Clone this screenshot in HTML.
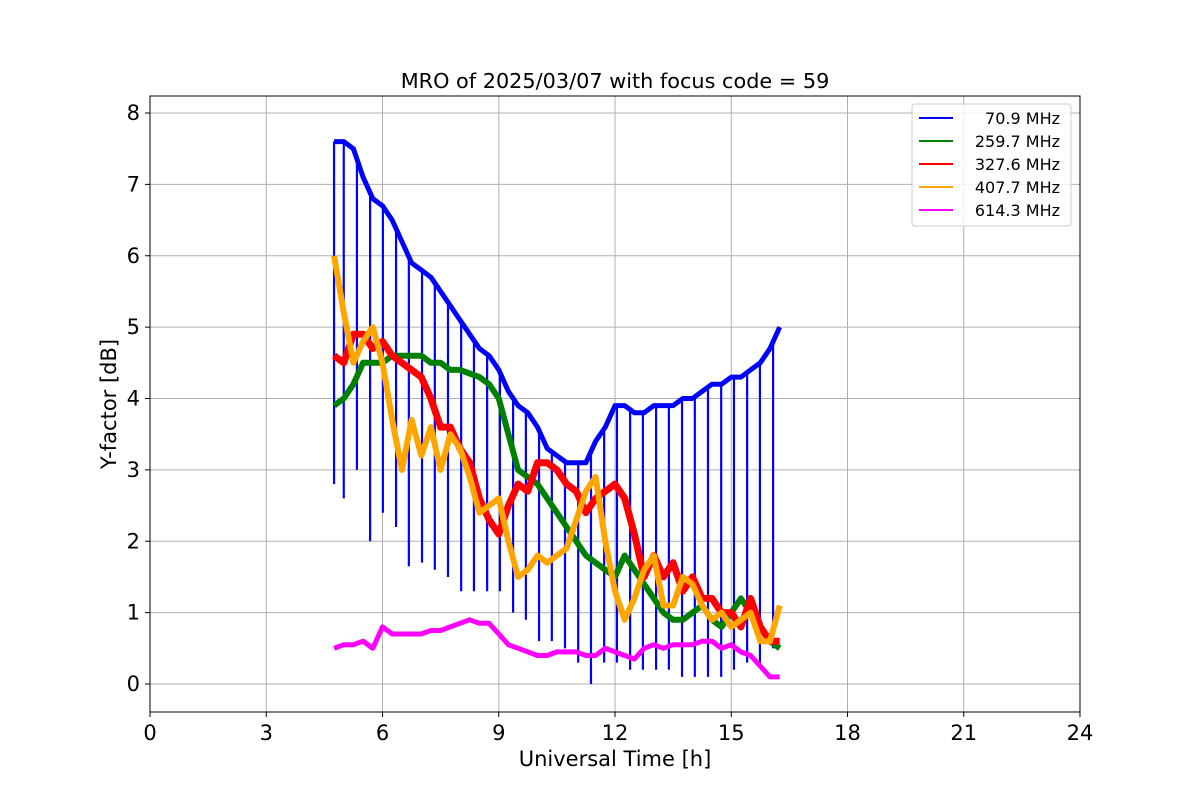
<!DOCTYPE html>
<html><head><meta charset="utf-8">
<style>
body{margin:0;background:#fff;}
svg{display:block;font-family:"DejaVu Sans","Liberation Sans",sans-serif;}
</style></head>
<body>
<svg id="chart" width="1200" height="800" viewBox="0 0 1200 800">
<rect width="1200" height="800" fill="#fff"/>
<g id="grid"></g>
<g id="series"></g>
<rect x="150" y="96" width="930" height="616" fill="none" stroke="#000" stroke-width="1"/>
<g id="ticks"></g>
<text x="615" y="88" text-anchor="middle" font-size="20.8">MRO of 2025/03/07 with focus code = 59</text>
<text x="615" y="766" text-anchor="middle" font-size="21">Universal Time [h]</text>
<text x="116" y="404" text-anchor="middle" font-size="21" transform="rotate(-90 116 404)">Y-factor [dB]</text>
<g id="legend">
<rect x="912" y="104" width="159" height="122" rx="3" fill="#fff" fill-opacity="0.8" stroke="#ccc"/>
</g>
</svg>
<script>
const xTicks=[0,3,6,9,12,15,18,21,24];
const yTicks=[0,1,2,3,4,5,6,7,8];
const times=[4.75,5.0,5.25,5.5,5.75,6.0,6.25,6.5,6.75,7.0,7.25,7.5,7.75,8.0,8.25,8.5,8.75,9.0,9.25,9.5,9.75,10.0,10.25,10.5,10.75,11.0,11.25,11.5,11.75,12.0,12.25,12.5,12.75,13.0,13.25,13.5,13.75,14.0,14.25,14.5,14.75,15.0,15.25,15.5,15.75,16.0,16.25];
const blueVals=[7.6,7.6,7.5,7.1,6.8,6.7,6.5,6.2,5.9,5.8,5.7,5.5,5.3,5.1,4.9,4.7,4.6,4.4,4.1,3.9,3.8,3.6,3.3,3.2,3.1,3.1,3.1,3.4,3.6,3.9,3.9,3.8,3.8,3.9,3.9,3.9,4.0,4.0,4.1,4.2,4.2,4.3,4.3,4.4,4.5,4.7,5.0];
const blueDipTimes=[4.75,5.0,5.34,5.68,6.01,6.35,6.68,7.02,7.35,7.69,8.03,8.36,8.70,9.03,9.37,9.70,10.04,10.37,10.71,11.05,11.38,11.72,12.05,12.39,12.72,13.06,13.39,13.73,14.06,14.40,14.74,15.07,15.41,15.74,16.08];
const blueDipVals=[2.8,2.6,3.0,2.0,2.4,2.2,1.65,1.7,1.6,1.5,1.3,1.3,1.3,1.3,1.0,0.9,0.6,0.6,0.5,0.3,0.0,0.3,0.3,0.2,0.2,0.2,0.2,0.1,0.1,0.1,0.1,0.2,0.3,0.3,0.5];
const greenVals=[3.9,4.0,4.2,4.5,4.5,4.5,4.6,4.6,4.6,4.6,4.5,4.5,4.4,4.4,4.35,4.3,4.2,4.0,3.5,3.0,2.9,2.8,2.6,2.4,2.2,2.0,1.8,1.7,1.6,1.5,1.8,1.6,1.4,1.2,1.0,0.9,0.9,1.0,1.1,0.9,0.8,1.0,1.2,1.0,0.8,0.6,0.5];
const redVals=[4.6,4.5,4.9,4.9,4.7,4.8,4.6,4.5,4.4,4.3,4.0,3.6,3.6,3.3,3.1,2.6,2.3,2.1,2.5,2.8,2.7,3.1,3.1,3.0,2.8,2.7,2.4,2.6,2.7,2.8,2.6,2.1,1.5,1.8,1.5,1.7,1.3,1.5,1.2,1.2,1.0,1.0,0.8,1.2,0.8,0.6,0.6];
const orangeVals=[6.0,5.2,4.5,4.8,5.0,4.5,3.7,3.0,3.7,3.2,3.6,3.0,3.5,3.3,2.9,2.4,2.5,2.6,2.0,1.5,1.6,1.8,1.7,1.8,1.9,2.3,2.7,2.9,2.0,1.3,0.9,1.2,1.6,1.8,1.1,1.1,1.5,1.4,1.1,0.9,1.0,0.8,0.9,1.0,0.6,0.6,1.1];
const magentaVals=[0.5,0.55,0.55,0.6,0.5,0.8,0.7,0.7,0.7,0.7,0.75,0.75,0.8,0.85,0.9,0.85,0.85,0.7,0.55,0.5,0.45,0.4,0.4,0.45,0.45,0.45,0.4,0.4,0.5,0.45,0.4,0.35,0.5,0.55,0.5,0.55,0.55,0.55,0.6,0.6,0.5,0.55,0.45,0.4,0.25,0.1,0.1];
const seriesLabels=[" 70.9 MHz","259.7 MHz","327.6 MHz","407.7 MHz","614.3 MHz"];
const seriesColors=["blue","green","red","orange","magenta"];
const seriesNames=["series-70-9-mhz","series-259-7-mhz","series-327-6-mhz","series-407-7-mhz","series-614-3-mhz"];

const NS="http://www.w3.org/2000/svg";
const X0=150,X1=1080,Y0=684,Y8=113;
const xs=h=>X0+(X1-X0)*h/24;
const ys=v=>Y0+(Y8-Y0)*v/8;
function mk(tag,attrs,parent){const e=document.createElementNS(NS,tag);for(const k in attrs)e.setAttribute(k,attrs[k]);parent.appendChild(e);return e;}
const grid=document.getElementById('grid'),ticks=document.getElementById('ticks');
xTicks.forEach(t=>{
  const l=mk('line',{x1:xs(t),x2:xs(t),y1:96,y2:712,stroke:'#b0b0b0','stroke-width':1},grid);
  
  
  const tk=mk('line',{x1:xs(t),x2:xs(t),y1:712,y2:717,stroke:'#000'},ticks);
  
  
  const tx=mk('text',{x:xs(t),y:740,'text-anchor':'middle','font-size':21},ticks);
  tx.textContent=t;
  
  
});
yTicks.forEach(t=>{
  const l=mk('line',{x1:150,x2:1080,y1:ys(t),y2:ys(t),stroke:'#b0b0b0','stroke-width':1},grid);
  
  
  const tk=mk('line',{x1:145,x2:150,y1:ys(t),y2:ys(t),stroke:'#000'},ticks);
  
  
  const tx=mk('text',{x:140,y:ys(t)+7,'text-anchor':'end','font-size':21},ticks);
  tx.textContent=t;
  
  
});
function interp(vals,t){
  for(let i=0;i<times.length-1;i++){if(t>=times[i]&&t<=times[i+1]){const f=(t-times[i])/(times[i+1]-times[i]);return vals[i]+f*(vals[i+1]-vals[i]);}}
  return t<times[0]?vals[0]:vals[vals.length-1];
}
const sg=document.getElementById('series');
function drawPts(pts,color,w,name){
  const d=pts.map((p,i)=>(i?'L':'M')+xs(p[0]).toFixed(1)+' '+ys(p[1]).toFixed(1)).join(' ');
  const p=mk('path',{d:d,fill:'none',stroke:color,'stroke-width':w,'stroke-linejoin':'round'},sg);
  
  
}
// blue baseline + thin dips
drawPts(times.map((t,i)=>[t,blueVals[i]]),'blue',5,seriesNames[0]);
blueDipTimes.forEach((t,i)=>{
  const b=interp(blueVals,t);
  const l=mk('line',{x1:xs(t),x2:xs(t),y1:ys(b),y2:ys(blueDipVals[i]),stroke:'blue','stroke-width':2.2},sg);
  
  
});
drawPts(times.map((t,i)=>[t,greenVals[i]]),'green',6,seriesNames[1]);
drawPts(times.map((t,i)=>[t,redVals[i]]),'red',7,seriesNames[2]);
drawPts(times.map((t,i)=>[t,orangeVals[i]]),'orange',6,seriesNames[3]);
drawPts(times.map((t,i)=>[t,magentaVals[i]]),'magenta',5,seriesNames[4]);
const lg=document.getElementById('legend');
seriesLabels.forEach((s,i)=>{
  const y=118+i*23;
  const l=mk('line',{x1:919,x2:953,y1:y,y2:y,stroke:seriesColors[i],'stroke-width':2},lg);
  
  
  const t=mk('text',{x:1060,y:y+6,'text-anchor':'end','font-size':16,'xml:space':'preserve'},lg);
  t.textContent=s;
  
  
});
</script>
</body></html>
